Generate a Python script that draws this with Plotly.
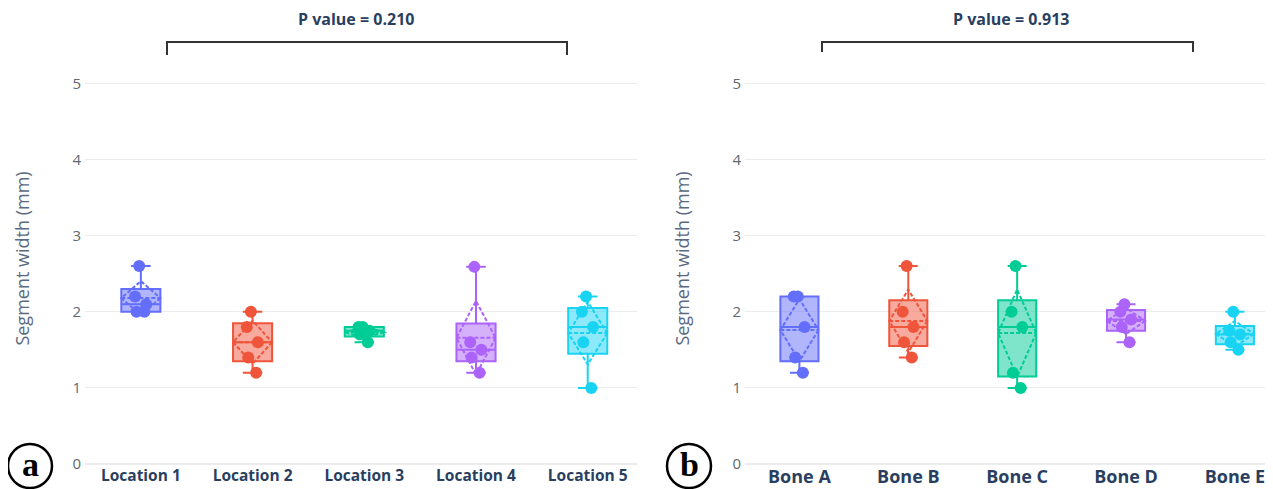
import plotly.graph_objects as go

# page body has an 8px default margin; the figure is sized to fill the rest
OFF = 8
W, H = 1273 - OFF, 489 - OFF

# ---- data ----
locations = ["Location 1", "Location 2", "Location 3", "Location 4", "Location 5"]
loc_values = [
    [2.0, 2.0, 2.1, 2.2, 2.6],
    [1.2, 1.4, 1.6, 1.8, 2.0],
    [1.6, 1.7, 1.75, 1.8, 1.8],
    [1.2, 1.4, 1.5, 1.6, 2.59],
    [1.0, 1.6, 1.8, 2.0, 2.2],
]
bones = ["Bone A", "Bone B", "Bone C", "Bone D", "Bone E"]
bone_values = [
    [1.2, 1.4, 1.8, 2.2, 2.2],
    [1.4, 1.6, 1.8, 2.0, 2.6],
    [1.0, 1.2, 1.8, 2.0, 2.6],
    [1.6, 1.8, 1.9, 2.0, 2.1],
    [1.5, 1.6, 1.7, 1.75, 2.0],
]
p_values = ["P value = 0.210", "P value = 0.913"]
panel_labels = ["a", "b"]
y_ticks = [0, 1, 2, 3, 4, 5]

colors = ["#636efa", "#EF553B", "#00cc96", "#ab63fa", "#19d3f3"]


def px_x(p):
    return (p - OFF) / W


def px_y(p):
    return 1 - (p - OFF) / H


fig = go.Figure()

for cats, vals_list, xa, ya in [(locations, loc_values, "x", "y"),
                                (bones, bone_values, "x2", "y2")]:
    for i, (cat, vals) in enumerate(zip(cats, vals_list)):
        fig.add_trace(go.Box(
            y=vals, x=[cat] * len(vals), name=cat,
            marker=dict(color=colors[i], size=12),
            line=dict(width=2),
            boxpoints="all", jitter=0.35, pointpos=0,
            boxmean="sd", showlegend=False,
            xaxis=xa, yaxis=ya,
        ))

ydom = [px_y(464), px_y(53)]
yrange = [0, 5.4]
ytickfont = dict(family="Open Sans", size=15, color="#606870")
ytitlefont = dict(family="Open Sans", size=18, color="#5a6a82")

fig.update_layout(
    template="plotly_white",
    width=W, height=H,
    margin=dict(l=0, r=0, t=0, b=0, autoexpand=False),
    boxgap=0.5,
    xaxis=dict(domain=[px_x(85), px_x(638)], anchor="y", automargin=False,
               range=[-0.5, 4.45], showgrid=False,
               tickfont=dict(family="Open Sans", size=15.5, color="#2a3f5f", weight="bold")),
    yaxis=dict(domain=ydom, anchor="x", range=yrange, tickvals=y_ticks, automargin=False,
               tickfont=ytickfont, gridcolor="#ececec", zerolinecolor="#ececec",
               ticklabelstandoff=3,
               title=dict(text="Segment width (mm)", font=ytitlefont, standoff=38)),
    xaxis2=dict(domain=[px_x(745), 1], anchor="y2", automargin=False,
                range=[-0.5, 4.35], showgrid=False,
                tickfont=dict(family="Open Sans", size=18, color="#2a3f5f", weight="bold")),
    yaxis2=dict(domain=ydom, anchor="x2", range=yrange, tickvals=y_ticks, automargin=False,
                tickfont=ytickfont, gridcolor="#ececec", zerolinecolor="#ececec",
                ticklabelstandoff=3,
                title=dict(text="Segment width (mm)", font=ytitlefont, standoff=38)),
)

# brackets
for x0, x1, ytop, ybot in [(167, 567, 42, 55), (822, 1193, 42, 52)]:
    pts = [(x0, ybot), (x0, ytop), (x1, ytop), (x1, ybot)]
    path = "M " + " L ".join(f"{px_x(a)},{px_y(b)}" for a, b in pts)
    fig.add_shape(type="path", path=path, xref="paper", yref="paper",
                  line=dict(color="#333333", width=2))

# p-value labels
for txt, cx in zip(p_values, [356, 1011]):
    fig.add_annotation(text=f"<b>{txt}</b>", x=px_x(cx), y=px_y(19),
                       xref="paper", yref="paper", showarrow=False,
                       xanchor="center", yanchor="middle",
                       font=dict(family="Open Sans", size=16, color="#2a3f5f"))

# circled panel labels
for lab, cx in zip(panel_labels, [30, 689]):
    cy = 466
    r = 22
    fig.add_shape(type="circle", xref="paper", yref="paper",
                  x0=px_x(cx - r), x1=px_x(cx + r),
                  y0=px_y(cy + r), y1=px_y(cy - r),
                  line=dict(color="black", width=2.5))
    fig.add_annotation(text=f"<b>{lab}</b>", x=px_x(cx), y=px_y(cy - 2),
                       xref="paper", yref="paper", showarrow=False,
                       xanchor="center", yanchor="middle",
                       font=dict(family="Liberation Serif", size=34, color="black"))

fig.write_html("out.html")
